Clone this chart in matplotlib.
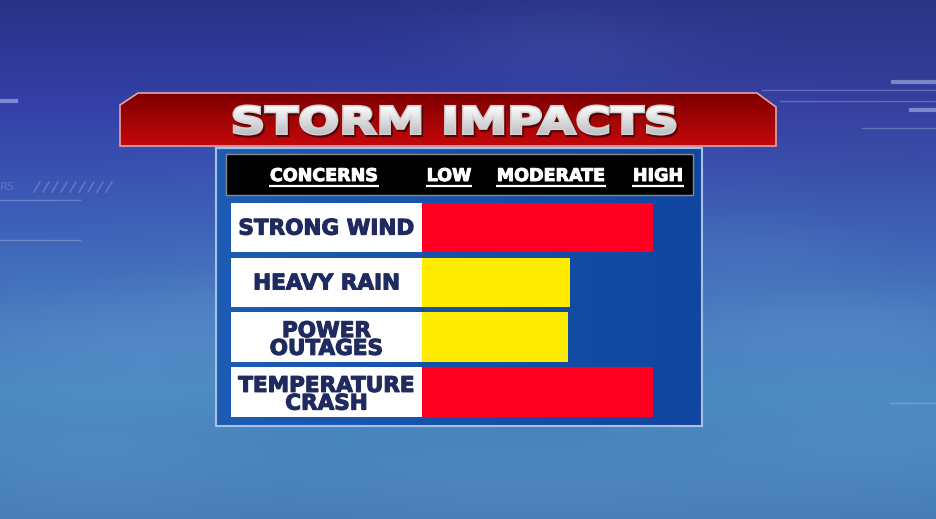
import numpy as np
import matplotlib
matplotlib.use("Agg")
import matplotlib.pyplot as plt
from matplotlib.patches import Polygon, Rectangle, PathPatch
from matplotlib.textpath import TextPath
from matplotlib.font_manager import FontProperties
from matplotlib.transforms import Affine2D
import matplotlib.patheffects as pe

# ---- data ----
title = "STORM IMPACTS"
levels = ["LOW", "MODERATE", "HIGH"]
concerns = ["STRONG WIND", "HEAVY RAIN", "POWER\nOUTAGES", "TEMPERATURE\nCRASH"]
impact = [100, 64, 63.5, 100]          # bar length, % of HIGH
impact_level = ["HIGH", "MODERATE", "MODERATE", "HIGH"]
level_colors = {"LOW": "#2fbf3a", "MODERATE": "#ffec00", "HIGH": "#ff0022"}

W, H = 936, 519
NAVY = "#1f2a5e"

fig = plt.figure(figsize=(W / 100, H / 100), dpi=100)
bg = fig.add_axes([0, 0, 1, 1])
bg.set_xlim(0, W)
bg.set_ylim(H, 0)
bg.axis("off")

# ---- sky background ----
yy, xx = np.mgrid[0:H, 0:W].astype(float)
t = yy / H
stops = [0, 0.2, 0.45, 0.75, 1.0]
cols = np.array([[40, 50, 135], [52, 64, 168], [62, 100, 185], [72, 136, 192], [68, 124, 180]]) / 255
img = np.dstack([np.interp(t, stops, cols[:, c]) for c in range(3)])
# darker purplish top right
dark = np.exp(-(((xx - 900) / 300) ** 2 + ((yy - 60) / 160) ** 2))
img = img * (1 - 0.2 * dark[..., None]) + 0.2 * dark[..., None] * np.array([62, 64, 122]) / 255
# soft cloud blobs
blobs = [(150, 340, 190, 55, 0.2), (830, 330, 170, 45, 0.2), (880, 440, 190, 60, 0.14),
         (90, 460, 150, 60, 0.14), (520, 480, 260, 40, 0.12), (260, 300, 90, 30, 0.10),
         (760, 250, 90, 40, 0.08), (460, 230, 200, 80, 0.08), (560, 40, 120, 40, 0.08)]
cloud = np.array([130, 178, 222]) / 255
for cx, cy, sx, sy, a in blobs:
    g = a * np.exp(-(((xx - cx) / sx) ** 2 + ((yy - cy) / sy) ** 2))
    img = img * (1 - g[..., None]) + g[..., None] * cloud
bg.imshow(img, extent=(0, W, H, 0), aspect="auto", zorder=0, interpolation="bilinear")

# faint HUD decorations
deco = dict(color="#b8c4ee", alpha=0.35, lw=1, zorder=1)
bg.plot([762, 936], [90, 90], **deco)
bg.plot([780, 936], [101, 101], **deco)
bg.plot([862, 936], [128, 128], **deco)
bg.plot([0, 80], [200, 200], **deco)
bg.plot([0, 80], [240, 240], **deco)
bg.plot([893, 936], [82, 82], color="#c8d0f0", alpha=0.5, lw=3, zorder=1)
bg.plot([911, 936], [110, 110], color="#c8d0f0", alpha=0.5, lw=3, zorder=1)
bg.plot([0, 16], [101, 101], color="#c8d0f0", alpha=0.5, lw=3, zorder=1)
bg.plot([890, 936], [403, 403], **deco)
for k in range(9):
    bg.plot([34 + 9 * k, 40 + 9 * k], [192, 182], color="#b8c4ee", alpha=0.3, lw=1.2, zorder=1)
bg.text(0, 187, "RS", color="#b8c4ee", alpha=0.3, fontsize=8, va="center", zorder=1)

# ---- title banner ----
banner = Polygon([(120, 105), (138, 93), (757, 93), (776, 107), (776, 146), (120, 146)],
                 closed=True, facecolor="none", edgecolor="#e4a4a8", lw=1.2, zorder=3)
bg.add_patch(banner)
grad = np.linspace(0, 1, 60)[:, None]
red = np.array([126, 0, 0]) / 255 * (1 - grad[..., None]) + np.array([196, 8, 10]) / 255 * grad[..., None]
im = bg.imshow(np.repeat(red, 2, axis=1), extent=(120, 776, 146, 93), aspect="auto", zorder=2)
im.set_clip_path(banner)

# title as gradient-filled text path
fp = FontProperties(family="DejaVu Sans", weight="bold")
tp = TextPath((0, 0), title, size=100, prop=fp)
ext = tp.get_extents()
x0, x1, y0, y1 = 234, 675, 106, 134
tr = (Affine2D().translate(-ext.x0, -ext.y0)
      .scale((x1 - x0) / ext.width, -(y1 - y0) / ext.height)
      .translate(x0, y1))
tpath = tr.transform_path(tp)
shadow = PathPatch(Affine2D().translate(1.5, 2).transform_path(tpath),
                   facecolor="#3a0000", edgecolor="#3a0000", lw=2.5, alpha=0.7, zorder=4)
bg.add_patch(shadow)
# thicken the glyphs a little with a light stroke
bg.add_patch(PathPatch(tpath, facecolor="#dcdcdc", edgecolor="#d2d2d4", lw=2.2, zorder=4.5))
tpatch = PathPatch(tpath, facecolor="none", edgecolor="none", zorder=5)
bg.add_patch(tpatch)
g2 = np.linspace(0, 1, 40)[:, None]
wg = np.array([1, 1, 1]) * (1 - g2[..., None]) + np.array([0.74, 0.74, 0.76]) * g2[..., None]
tim = bg.imshow(np.repeat(wg, 2, axis=1), extent=(x0, x1, y1 + 1, y0 - 1), aspect="auto", zorder=5)
tim.set_clip_path(tpatch)

# ---- panel ----
panel = Rectangle((216, 148), 486, 278, facecolor="none", edgecolor="#a8c0e8", lw=1.5, zorder=7)
bg.add_patch(panel)
pg = np.linspace(0, 1, 60)[None, :]
blue = np.array([28, 92, 178]) / 255 * (1 - pg[..., None]) + np.array([16, 70, 160]) / 255 * pg[..., None]
pim = bg.imshow(np.repeat(blue, 2, axis=0), extent=(216, 702, 426, 148), aspect="auto", zorder=6)
pim.set_clip_path(panel)
bg.add_patch(Rectangle((226, 154), 467, 41, facecolor="black", edgecolor="#8a8a8a", lw=1, zorder=7))

# header labels
hdr_x = [324, 449, 551, 658]
hdr = []
for x, s in zip(hdr_x, ["CONCERNS"] + levels):
    hdr.append(bg.text(x, 176, s, color="white", fontsize=12.6, fontweight="bold",
                       family="DejaVu Sans", ha="center", va="center", zorder=8,
                       path_effects=[pe.withStroke(linewidth=0.7, foreground="white")]))

# ---- bars ----
px_per = (652.7 - 422) / 100
left_px, right_px, top_px, bot_px = 231, 693, 202.7, 416.7
ax = fig.add_axes([left_px / W, 1 - bot_px / H, (right_px - left_px) / W, (bot_px - top_px) / H])
ax.set_zorder(10)
ax.patch.set_alpha(0)
ax.axis("off")
label_w = (422 - left_px) / px_per
pitch = 54.83
ax.set_xlim(-label_w, (right_px - 422) / px_per)
ax.set_ylim(3 + (bot_px - 392) / pitch, -(227.5 - top_px) / pitch)

ypos = np.arange(len(concerns))
bh = 49.6 / pitch
ax.barh(ypos, [label_w] * len(concerns), left=-label_w, height=bh, color="white", lw=0)
ax.barh(ypos, impact, height=bh, color=[level_colors[l] for l in impact_level], lw=0)
for y, lab in zip(ypos, concerns):
    dy = 0.05 if "\n" in lab else 0.02
    ax.text(-label_w / 2, y + dy, lab, color=NAVY, fontsize=15.5, fontweight="bold",
            family="DejaVu Sans", ha="center", va="center", linespacing=0.86,
            path_effects=[pe.withStroke(linewidth=0.8, foreground=NAVY)])

# underline header labels
fig.canvas.draw()
r = fig.canvas.get_renderer()
for tx in hdr:
    bb = tx.get_window_extent(r)
    bg.plot([bb.x0 - 1, bb.x1 + 1], [185.5, 185.5], color="white", lw=1.6,
            solid_capstyle="butt", zorder=8)

fig.savefig("out.png", dpi=100)
